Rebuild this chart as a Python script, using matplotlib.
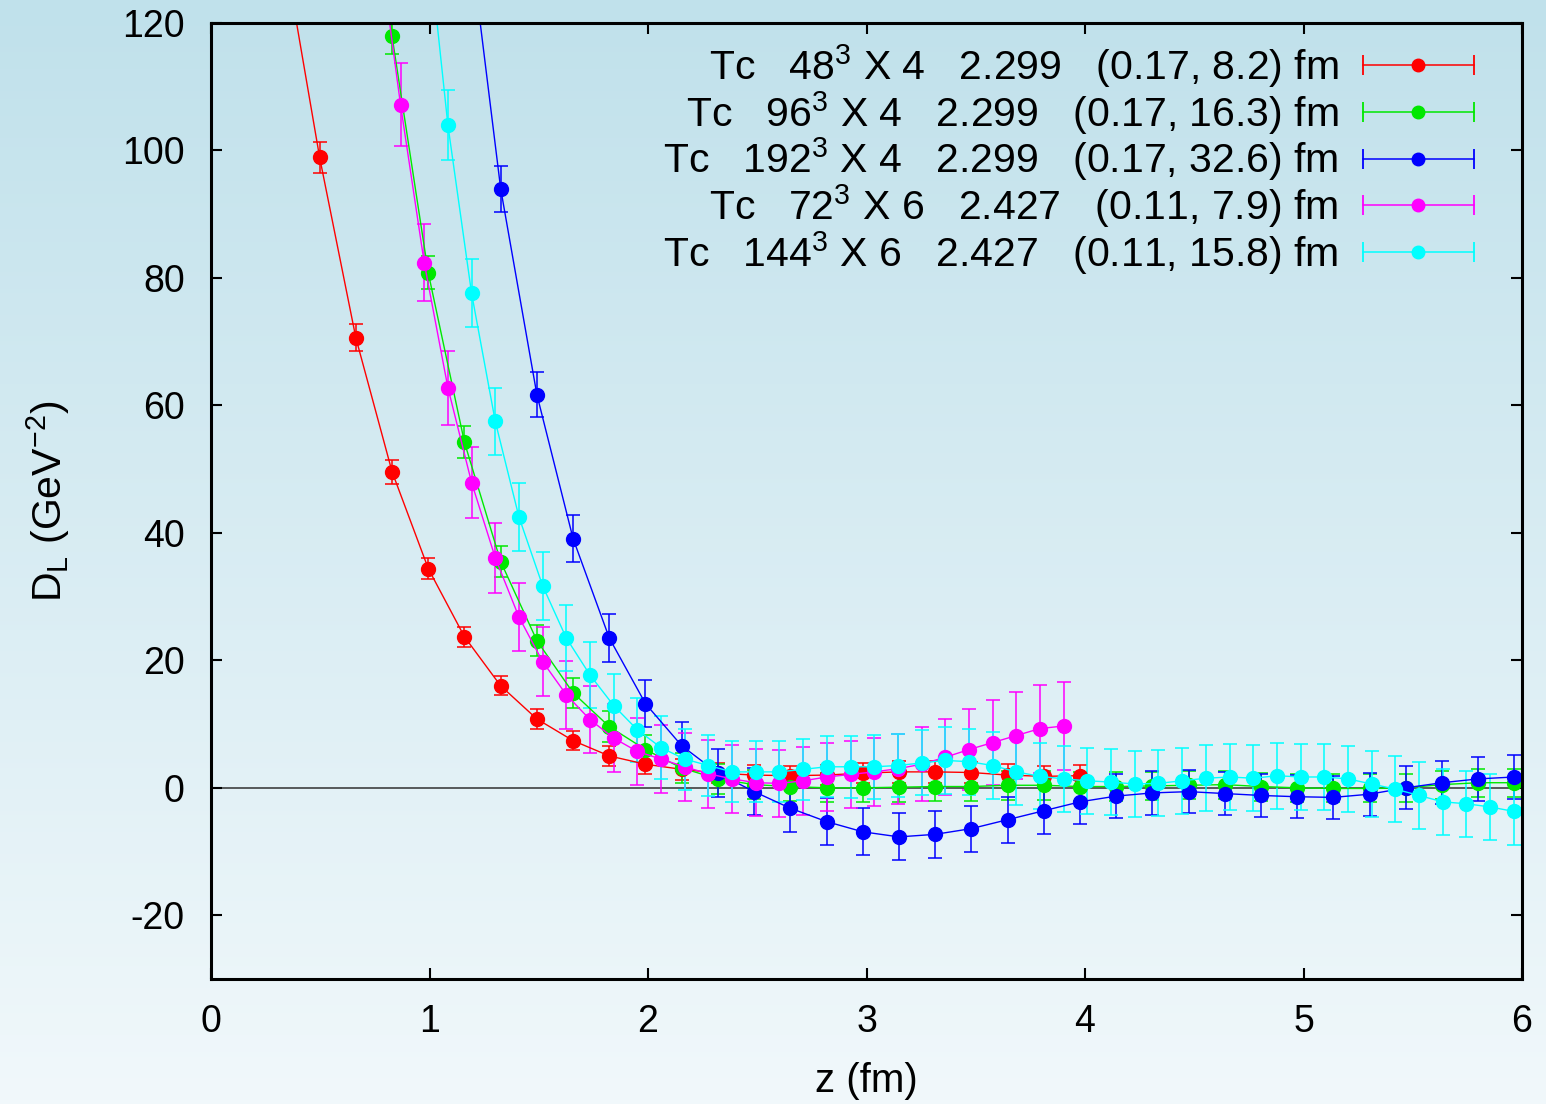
import numpy as np
import matplotlib.pyplot as plt
from matplotlib.lines import Line2D
from matplotlib.legend_handler import HandlerLine2D, HandlerTuple
from matplotlib.colors import LinearSegmentedColormap

plt.rcParams['font.family'] = ['Liberation Sans', 'DejaVu Sans']
plt.rcParams['mathtext.fontset'] = 'custom'
plt.rcParams['mathtext.rm'] = 'Liberation Sans'
plt.rcParams['mathtext.default'] = 'regular'
plt.rcParams['axes.unicode_minus'] = False

# lattice spacing (fm) read from the point spacing, z = n * a
a_nt4 = 0.1657
a_nt6 = 0.1084

# Tc 48^3 x 4
n_48 = np.arange(2, 25)
d_48 = [132, 98.9, 70.6, 49.6, 34.4, 23.7, 16.0, 10.8, 7.4, 5.0, 3.7, 2.9, 2.3,
        2.0, 1.9, 2.0, 2.3, 2.5, 2.5, 2.4, 2.0, 1.8, 1.9]
e_48 = [2.8, 2.4, 2.1, 1.9, 1.7, 1.6, 1.5, 1.5, 1.5, 1.6, 1.5, 1.6, 1.6,
        1.6, 1.6, 1.6, 1.6, 1.7, 1.7, 1.7, 1.7, 1.7, 1.7]

# Tc 96^3 x 4
n_96 = np.arange(4, 37)
d_96 = [175, 117.9, 80.8, 54.2, 35.5, 23.1, 14.9, 9.6, 6.0, 3.1, 1.4, 0.5, 0.2,
        0.0, 0.0, 0.1, 0.2, 0.2, 0.4, 0.4, 0.2, 0.2, 0.3, 0.4, 0.5, 0.2, 0.0,
        -0.1, -0.1, 0.0, 0.5, 0.8, 0.8]
e_96 = [3.0, 2.8, 2.6, 2.5, 2.4, 2.4, 2.4, 2.4, 2.3, 2.3, 2.3, 2.3, 2.3,
        2.3, 2.3, 2.3, 2.3, 2.3, 2.3, 2.3, 2.3, 2.3, 2.2, 2.2, 2.2, 2.2, 2.2,
        2.2, 2.2, 2.2, 2.2, 2.2, 2.2]

# Tc 192^3 x 4
n_192 = np.arange(6, 37)
d_192 = [220, 140, 94.0, 61.7, 39.1, 23.5, 13.2, 6.6, 2.3, -0.6, -3.2, -5.3,
         -6.9, -7.7, -7.3, -6.4, -5.0, -3.6, -2.2, -1.3, -0.8, -0.6, -0.9,
         -1.2, -1.4, -1.5, -1.0, 0.0, 0.8, 1.4, 1.7]
e_192 = [3.7, 3.7, 3.6, 3.6, 3.7, 3.7, 3.7, 3.8, 3.8, 3.7, 3.7, 3.7,
         3.7, 3.7, 3.7, 3.6, 3.6, 3.6, 3.5, 3.5, 3.4, 3.4, 3.4,
         3.4, 3.4, 3.4, 3.4, 3.4, 3.4, 3.4, 3.4]

# Tc 72^3 x 6
n_72 = np.arange(7, 37)
d_72 = [135, 107.2, 82.4, 62.8, 47.9, 36.1, 26.8, 19.8, 14.6, 10.7, 7.8, 5.7,
        4.5, 3.3, 2.2, 1.4, 0.8, 0.7, 1.1, 1.7, 2.1, 2.5, 3.0, 3.7, 4.8, 6.0,
        7.1, 8.2, 9.3, 9.7]
e_72 = [6.6, 6.5, 6.1, 5.8, 5.6, 5.5, 5.4, 5.4, 5.3, 5.3, 5.3, 5.3,
        5.3, 5.3, 5.3, 5.3, 5.3, 5.3, 5.3, 5.3, 5.3, 5.3, 5.5, 5.8, 6.0, 6.4,
        6.6, 6.8, 6.9, 6.9]

# Tc 144^3 x 6
n_144 = np.arange(9, 56)
d_144 = [139, 104.0, 77.6, 57.5, 42.5, 31.7, 23.5, 17.7, 12.9, 9.1, 6.3, 4.5,
         3.5, 2.5, 2.5, 2.5, 2.9, 3.3, 3.3, 3.3, 3.5, 3.9, 4.3, 4.1, 3.5, 2.5,
         1.8, 1.4, 1.1, 0.9, 0.6, 0.7, 1.1, 1.5, 1.7, 1.5, 1.9, 1.7, 1.7, 1.4,
         0.6, -0.2, -1.2, -2.2, -2.5, -3.0, -3.7]
e_144 = [5.5, 5.5, 5.3, 5.3, 5.3, 5.3, 5.2, 5.2, 5.0, 5.0, 4.9, 4.8,
         4.8, 4.8, 4.8, 4.8, 4.8, 4.8, 4.9, 5.0, 5.0, 5.1, 5.2, 5.2, 5.2, 5.2,
         5.2, 5.2, 5.2, 5.2, 5.2, 5.2, 5.2, 5.2, 5.2, 5.2, 5.2, 5.2, 5.2, 5.2,
         5.2, 5.2, 5.2, 5.2, 5.2, 5.2, 5.2]

series = [
    (n_48 * a_nt4, d_48, e_48, '#ff0000', r'Tc   48$^3$ X 4   2.299   (0.17, 8.2) fm'),
    (n_96 * a_nt4, d_96, e_96, '#00e800', r'Tc   96$^3$ X 4   2.299   (0.17, 16.3) fm'),
    (n_192 * a_nt4, d_192, e_192, '#0000ff', r'Tc   192$^3$ X 4   2.299   (0.17, 32.6) fm'),
    (n_72 * a_nt6, d_72, e_72, '#ff00ff', r'Tc   72$^3$ X 6   2.427   (0.11, 7.9) fm'),
    (n_144 * a_nt6, d_144, e_144, '#00ffff', r'Tc   144$^3$ X 6   2.427   (0.11, 15.8) fm'),
]

fig = plt.figure(figsize=(15.46, 11.04), dpi=100)

# background gradient
bg = fig.add_axes([0, 0, 1, 1], zorder=-10)
cmap = LinearSegmentedColormap.from_list('bg', ['#f1f8fb', '#c0e1eb'])
bg.imshow(np.linspace(0, 1, 256).reshape(-1, 1), aspect='auto', cmap=cmap,
          origin='lower', extent=[0, 1, 0, 1])
bg.axis('off')

ax = fig.add_axes([0.1365, 0.1132, 0.848, 0.866])
ax.set_facecolor('none')

ax.axhline(0, color='#303030', lw=1.1, zorder=1)

handles = []
hmap = {tuple: HandlerTuple(ndivide=1, pad=0)}
for z, d, e, c, lab in series:
    ax.errorbar(z, d, yerr=e, color=c, lw=1.0, elinewidth=1.1, capsize=5,
                capthick=1.1, marker='o', markersize=10, zorder=2)
    bar = Line2D([], [], color=c, lw=1.1, marker='|', markersize=14, markeredgewidth=1.3)
    dot = Line2D([], [], color=c, lw=0, marker='o', markersize=9)
    hmap[bar] = HandlerLine2D(numpoints=2, marker_pad=0)
    handles.append((bar, dot))

ax.set_xlim(0, 6)
ax.set_ylim(-30, 120)
ax.set_xticks(range(0, 7))
ax.set_yticks(range(-20, 121, 20))
ax.tick_params(direction='in', length=8, width=1.5, top=True, right=True,
               labelsize=27, pad=18)
ax.tick_params(axis='y', pad=19)
for s in ax.spines.values():
    s.set_linewidth(2.2)

ax.set_xlabel('z (fm)', fontsize=29, labelpad=16)
ax.set_ylabel(r'D$_L$ (GeV$^{-2}$)', fontsize=29.5, labelpad=36)

ax.legend(handles, [s[4] for s in series], handler_map=hmap, loc='upper right',
          bbox_to_anchor=(0.963, 0.980), borderaxespad=0, borderpad=0,
          frameon=False, markerfirst=False, fontsize=29.5, handlelength=2.7,
          handletextpad=0.6, labelspacing=-0.025)

fig.savefig('out.png', dpi=100)
